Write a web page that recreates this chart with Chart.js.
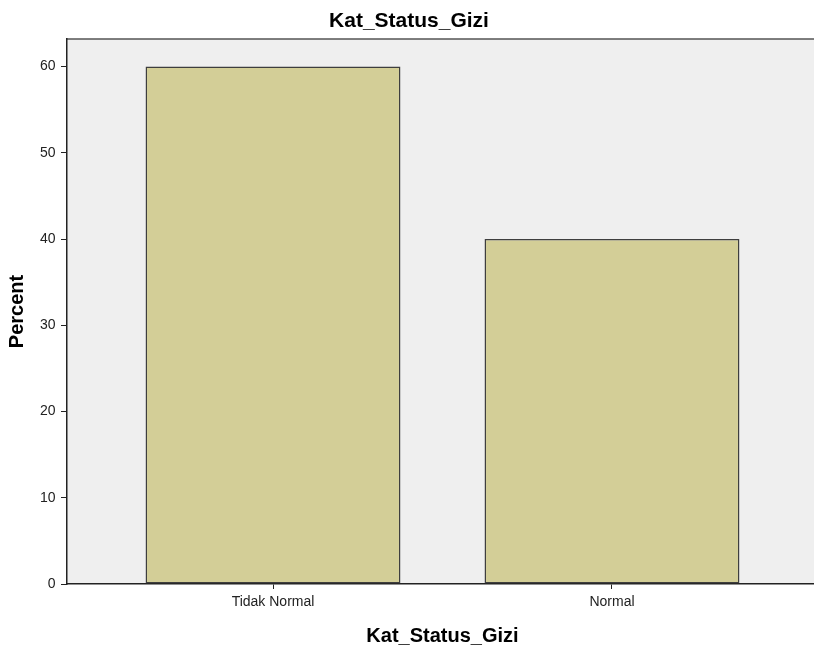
<!DOCTYPE html>
<html>
<head>
<meta charset="utf-8">
<script src="https://cdn.jsdelivr.net/npm/chart.js@4/dist/chart.umd.min.js"></script>
<style>
  html, body { margin: 0; padding: 0; background: #ffffff; overflow: hidden; }
  #wrap { width: 818px; height: 651px; position: relative; }
</style>
</head>
<body>
<div id="wrap"><canvas id="c"></canvas></div>
<script>
const categories = ['Tidak Normal', 'Normal'];
const percentValues = [60, 40];
const yTickValues = [0, 10, 20, 30, 40, 50, 60];
const chartTitle = 'Kat_Status_Gizi';
const xTitle = 'Kat_Status_Gizi';
const yTitle = 'Percent';

const plotBg = {
  id: 'plotBg',
  beforeDraw(chart) {
    const { ctx, chartArea: a } = chart;
    ctx.save();
    ctx.fillStyle = '#efefef';
    ctx.fillRect(a.left, a.top, a.right - a.left, a.bottom - a.top);
    ctx.strokeStyle = '#555555';
    ctx.lineWidth = 1.5;
    ctx.beginPath();
    ctx.moveTo(a.left, a.top);
    ctx.lineTo(a.right, a.top);
    ctx.stroke();
    ctx.restore();
  }
};

const font = 'Arial, "Liberation Sans", sans-serif';

new Chart(document.getElementById('c'), {
  type: 'bar',
  data: {
    datasets: [{
      data: categories.map((c, i) => ({ x: i, y: percentValues[i] })),
      backgroundColor: '#d3ce97',
      borderColor: '#3e3e3e',
      borderWidth: 1.5,
      borderSkipped: false,
      categoryPercentage: 1,
      barPercentage: 0.752
    }]
  },
  options: {
    responsive: true,
    maintainAspectRatio: false,
    animation: false,
    layout: { padding: 0 },
    plugins: {
      legend: { display: false },
      tooltip: { enabled: false },
      title: {
        display: true,
        text: chartTitle,
        color: '#000',
        font: { family: font, size: 21, weight: 'bold' },
        padding: { top: 8.4, bottom: 5.4 }
      }
    },
    scales: {
      x: {
        type: 'linear',
        offset: false,
        min: -0.6077,
        max: 1.6077,
        afterBuildTicks(scale) {
          scale.ticks = categories.map((c, i) => ({ value: i }));
        },
        afterFit(scale) { scale.height = 67; },
        ticks: {
          callback: (v) => categories[v] !== undefined ? categories[v] : '',
          color: '#222',
          font: { family: font, size: 14 },
          padding: 5,
          maxRotation: 0,
          autoSkip: false
        },
        grid: {
          display: true,
          offset: false,
          drawOnChartArea: false,
          drawTicks: true,
          tickLength: 5,
          color: '#222',
          lineWidth: 1
        },
        border: { display: true, color: '#222', width: 1.5 },
        title: {
          display: true,
          text: xTitle,
          color: '#000',
          font: { family: font, size: 20, weight: 'bold' },
          padding: { top: 0, bottom: 3 }
        }
      },
      y: {
        min: 0,
        max: 63.2,
        afterBuildTicks(scale) {
          scale.ticks = yTickValues.map(v => ({ value: v }));
        },
        afterFit(scale) { scale.width = 67; },
        ticks: {
          color: '#222',
          font: { family: font, size: 14 },
          padding: 5.5,
          includeBounds: false
        },
        grid: {
          display: true,
          drawOnChartArea: false,
          drawTicks: true,
          tickLength: 6,
          color: '#222',
          lineWidth: 1
        },
        border: { display: true, color: '#222', width: 1.5 },
        title: {
          display: true,
          text: yTitle,
          color: '#000',
          font: { family: font, size: 20, weight: 'bold' },
          padding: { top: 5, bottom: 0 }
        }
      }
    }
  },
  plugins: [plotBg]
});
</script>
</body>
</html>
